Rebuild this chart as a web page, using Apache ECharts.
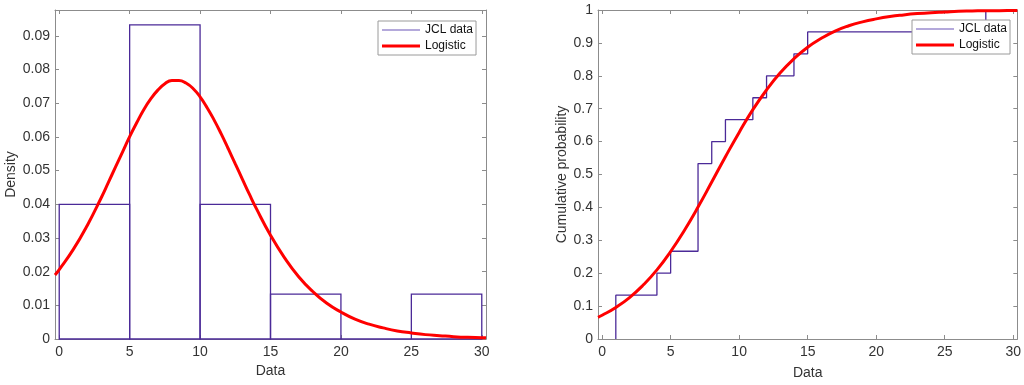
<!DOCTYPE html>
<html>
<head>
<meta charset="utf-8">
<script src="https://cdn.jsdelivr.net/npm/echarts@6/dist/echarts.min.js"></script>
<style>
  html, body { margin: 0; padding: 0; background: #fff; }
  #main { width: 1024px; height: 385px; }
</style>
</head>
<body>
<div id="main"></div>
<script>
// histogram bins: [start, end, density]
const binStart = [0, 5, 10, 15, 20, 25];
const binEnd = [5, 10, 15, 20, 25, 30];
const binDensity = [0.04, 0.0933, 0.04, 0.0133, 0, 0.0133];

// empirical cdf (stairs)
const ecdfX = [1, 1, 4, 5, 7, 8, 9, 11, 12, 14, 15, 28];
const ecdfY = [0, 0.1333, 0.2, 0.2667, 0.5333, 0.6, 0.6667, 0.7333, 0.8, 0.8667, 0.9333, 1];

// fitted logistic density
const pdfX = [-0.3, 0, 1, 2, 3, 3.5, 4, 4.5, 5, 5.5, 6, 6.5, 7, 7.5, 8, 8.5, 9, 9.5, 10, 10.5,
  11, 11.5, 12, 12.5, 13, 13.5, 14, 15, 16, 17, 18, 19, 20, 21, 22, 23, 24, 25, 26, 27, 28, 29, 30, 30.3];
const pdfY = [0.0190, 0.0206, 0.0266, 0.0338, 0.0421, 0.0466, 0.0511, 0.0556, 0.0601, 0.0642,
  0.0681, 0.0713, 0.0739, 0.0758, 0.0768, 0.0768, 0.0760, 0.0744, 0.0719, 0.0687, 0.0650,
  0.0609, 0.0565, 0.0520, 0.0475, 0.0430, 0.0387, 0.0308, 0.0241, 0.0185, 0.0141, 0.0106,
  0.0080, 0.0059, 0.0044, 0.0033, 0.0024, 0.0018, 0.0013, 0.0010, 0.0007, 0.0005, 0.0004, 0.00035];

// fitted logistic cdf
const cdfX = [-0.3, 0, 1, 2, 3, 4, 5, 6, 7, 8, 9, 10, 11, 12, 13, 14, 15, 16, 17, 18, 19, 20,
  21, 22, 23, 24, 25, 26, 27, 28, 29, 30, 30.3];
const cdfY = [0.066, 0.072, 0.096, 0.126, 0.164, 0.210, 0.266, 0.330, 0.401, 0.477, 0.554,
  0.628, 0.697, 0.757, 0.809, 0.852, 0.887, 0.914, 0.936, 0.952, 0.964, 0.973, 0.980, 0.985,
  0.989, 0.992, 0.994, 0.996, 0.997, 0.998, 0.998, 0.9987, 0.9988];

const xTicks = [0, 5, 10, 15, 20, 25, 30];

const FONT = 'Liberation Sans';
const AXIS_GREY = '#8c8c8c';
const TEXT = '#333333';
const PURPLE = '#4b2a98';
const RED = '#ff0000';

function zip(xs, ys) {
  return xs.map((x, i) => [x, ys[i]]);
}

function xAxisFor(grid, pos, show, gap) {
  return {
    type: 'value', gridIndex: grid, position: pos,
    min: -0.3, max: 30.3, splitNumber: 6,
    name: show ? 'Data' : '', nameLocation: 'middle', nameGap: gap || 25,
    nameTextStyle: { color: TEXT, fontFamily: FONT, fontSize: 14 },
    axisLine: { show: true, onZero: false, lineStyle: { color: AXIS_GREY, width: 1 } },
    axisTick: { show: true, inside: true, length: 4, lineStyle: { color: AXIS_GREY } },
    axisLabel: {
      show: show, color: TEXT, fontFamily: FONT, fontSize: 14, margin: 6,
      showMinLabel: false, showMaxLabel: false,
      formatter: v => (xTicks.indexOf(v) >= 0 ? String(v) : '')
    },
    splitLine: { show: false }
  };
}

function yAxisFor(grid, pos, show, max, interval, name, gap) {
  return {
    type: 'value', gridIndex: grid, position: pos,
    min: 0, max: max, interval: interval,
    name: show ? name : '', nameLocation: 'middle', nameGap: gap,
    nameTextStyle: { color: TEXT, fontFamily: FONT, fontSize: 14 },
    axisLine: { show: true, onZero: false, lineStyle: { color: AXIS_GREY, width: 1 } },
    axisTick: { show: true, inside: true, length: 4, lineStyle: { color: AXIS_GREY } },
    axisLabel: {
      show: show, color: TEXT, fontFamily: FONT, fontSize: 14, margin: 5,
      showMaxLabel: max === 1
    },
    splitLine: { show: false }
  };
}

function legendAt(left, top) {
  return {
    left: left, top: top, orient: 'vertical',
    data: [
      { name: 'JCL data', icon: 'path://M0,0H40V1.2H0Z', itemStyle: { color: '#6a55b8' } },
      { name: 'Logistic', icon: 'path://M0,0H40V3.2H0Z', itemStyle: { color: RED } }
    ],
    itemWidth: 38, itemHeight: 10, itemGap: 4, symbolKeepAspect: true,
    padding: [3, 3, 3, 4],
    borderColor: '#9a9a9a', borderWidth: 1, backgroundColor: '#fff',
    textStyle: { color: '#111', fontFamily: FONT, fontSize: 12 },
    selectedMode: false
  };
}

const chart = echarts.init(document.getElementById('main'));
chart.setOption({
  backgroundColor: '#fff',
  animation: false,
  grid: [
    { left: 55, right: 538, top: 10, bottom: 46 },
    { left: 598, right: 6, top: 10, bottom: 43 }
  ],
  xAxis: [
    xAxisFor(0, 'bottom', true, 25),
    xAxisFor(0, 'top', false),
    xAxisFor(1, 'bottom', true, 27),
    xAxisFor(1, 'top', false)
  ],
  yAxis: [
    yAxisFor(0, 'left', true, 0.0977, 0.01, 'Density', 37),
    yAxisFor(0, 'right', false, 0.0977, 0.01, '', 0),
    yAxisFor(1, 'left', true, 1, 0.1, 'Cumulative probability', 27),
    yAxisFor(1, 'right', false, 1, 0.1, '', 0)
  ],
  legend: [legendAt(378, 21), legendAt(912, 20)],
  series: [
    {
      name: 'JCL data', type: 'line', xAxisIndex: 2, yAxisIndex: 2,
      data: zip(ecdfX, ecdfY), step: 'end', symbol: 'none',
      lineStyle: { color: PURPLE, width: 1.3 }, itemStyle: { color: PURPLE }, z: 3
    },
    {
      name: 'Logistic', type: 'line', xAxisIndex: 2, yAxisIndex: 2,
      data: zip(cdfX, cdfY), smooth: true, symbol: 'none',
      lineStyle: { color: RED, width: 3 }, itemStyle: { color: RED }, z: 4
    },
    {
      name: 'JCL data', type: 'custom', xAxisIndex: 0, yAxisIndex: 0,
      data: binStart.map((s, i) => [s, binEnd[i], binDensity[i]]),
      renderItem: function (params, api) {
        const p0 = api.coord([api.value(0), 0]);
        const p1 = api.coord([api.value(1), api.value(2)]);
        return {
          type: 'rect',
          shape: { x: p0[0], y: p1[1], width: p1[0] - p0[0], height: p0[1] - p1[1] },
          style: { fill: 'none', stroke: PURPLE, lineWidth: 1.3 }
        };
      },
      itemStyle: { color: PURPLE }, z: 3
    },
    {
      name: 'Logistic', type: 'line', xAxisIndex: 0, yAxisIndex: 0,
      data: zip(pdfX, pdfY), smooth: true, symbol: 'none',
      lineStyle: { color: RED, width: 3 }, itemStyle: { color: RED }, z: 4
    }
  ]
});
</script>
</body>
</html>
